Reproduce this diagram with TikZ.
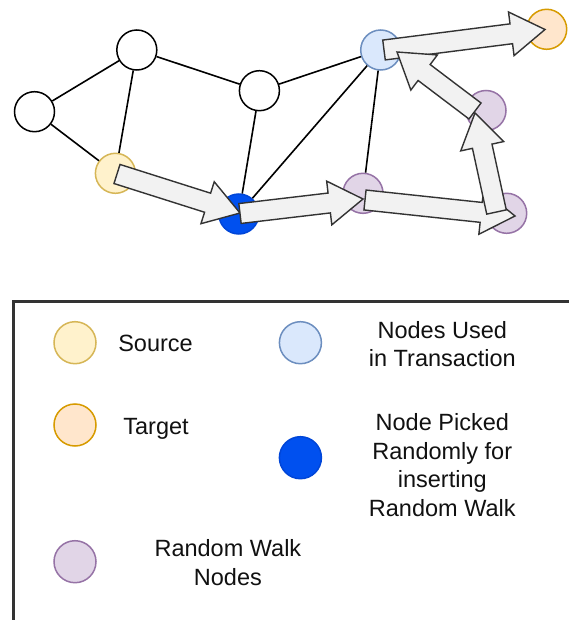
\documentclass[tikz,border=0pt]{standalone}
\usepackage{fontspec}
\setmainfont{Liberation Sans}
\usetikzlibrary{calc}
\definecolor{srcfill}{HTML}{FFF2CC}\definecolor{srcline}{HTML}{D6B656}
\definecolor{tgtfill}{HTML}{FFE6CC}\definecolor{tgtline}{HTML}{D79B00}
\definecolor{rwfill}{HTML}{E1D5E7}\definecolor{rwline}{HTML}{9673A6}
\definecolor{usedfill}{HTML}{DAE8FC}\definecolor{usedline}{HTML}{6C8EBF}
\definecolor{pickfill}{HTML}{0050EF}\definecolor{pickline}{HTML}{0046D8}
\definecolor{arrfill}{HTML}{F2F2F2}
\definecolor{txt}{HTML}{111111}
\newcommand\fatarrow[3]{%
  \coordinate (#1h) at ($(#3)!34pt!(#2)$);
  \draw[fatarr] ($(#2)!10pt!90:(#3)$) -- ($(#1h)!10pt!90:(#3)$) -- ($(#1h)!22pt!90:(#3)$) -- (#3)
    -- ($(#1h)!22pt!-90:(#3)$) -- ($(#1h)!10pt!-90:(#3)$) -- ($(#2)!10pt!-90:(#3)$) -- cycle;
}
\begin{document}
\begin{tikzpicture}[x=1pt,y=-1pt,
  gnode/.style={circle, minimum size=40pt, inner sep=0pt, line width=1.5pt, draw=black, fill=white},
  lnode/.style={circle, minimum size=42pt, inner sep=0pt, line width=1.5pt},
  srcn/.style={fill=srcfill, draw=srcline},
  tgtn/.style={fill=tgtfill, draw=tgtline},
  rwn/.style={fill=rwfill, draw=rwline},
  usedn/.style={fill=usedfill, draw=usedline},
  pickn/.style={fill=pickfill, draw=pickline},
  edge/.style={line width=1.6pt, draw=black},
  fatarr/.style={fill=arrfill, draw=black!80, line width=1.4pt, line join=miter},
  ltext/.style={align=center, text=txt, font=\fontsize{23.5}{28.5}\selectfont, inner sep=0pt}]
\useasboundingbox (0,0) rectangle (569,620);
\fill[white] (0,0) rectangle (569,620);
\clip (0,0) rectangle (569,620);
% graph nodes
\node[gnode] (L) at (34.5,111.7) {};
\node[gnode] (T) at (136.8,50) {};
\node[gnode] (M) at (259.4,90.7) {};
\node[gnode,usedn] (U) at (380.7,50) {};
\node[gnode,tgtn] (Tg) at (546.7,29.3) {};
\node[gnode,srcn] (S) at (115.4,173.3) {};
\node[gnode,pickn] (B) at (238.8,214) {};
\node[gnode,rwn] (P1) at (363,193.3) {};
\node[gnode,rwn] (P2) at (506.7,213.3) {};
\node[gnode,rwn] (P3) at (486,110.5) {};
% edges
\draw[edge] (L) -- (T);
\draw[edge] (L) -- (S);
\draw[edge] (T) -- (S);
\draw[edge] (T) -- (M);
\draw[edge] (M) -- (B);
\draw[edge] (M) -- (U);
\draw[edge] (U) -- (B);
\draw[edge] (U) -- (P1);
% arrow end points
\coordinate (a1t) at (117,174);   \coordinate (a1p) at (240,213);
\coordinate (a2t) at (240,213.5); \coordinate (a2p) at (363,199);
\coordinate (a3t) at (365,200);   \coordinate (a3p) at (515,216);
\coordinate (a4t) at (496.5,212); \coordinate (a4p) at (475,113);
\coordinate (a5t) at (475,111);   \coordinate (a5p) at (397,52);
\coordinate (a6t) at (384,50);    \coordinate (a6p) at (545,29.5);
\fatarrow{x1}{a1t}{a1p}
\fatarrow{x2}{a2t}{a2p}
\fatarrow{x3}{a3t}{a3p}
\fatarrow{x4}{a4t}{a4p}
\fatarrow{x6}{a6t}{a6p}
\fatarrow{x5}{a5t}{a5p}
% legend
\draw[line width=2.5pt, draw=black!80] (13.4,301.7) rectangle (590,640);
\node[lnode,srcn] (lS) at (75,342.7) {};
\node[lnode,tgtn] (lT) at (75,425) {};
\node[lnode,rwn] (lR) at (75,561.7) {};
\node[lnode,usedn] (lU) at (300.4,342.7) {};
\node[lnode,pickn] (lP) at (300.4,457.7) {};
\node[ltext] (tS) at (155.5,343.3) {Source};
\node[ltext] (tT) at (156,429) {Target};
\node[ltext] (tU) at (442.3,344) {Nodes Used\\in Transaction};
\node[ltext] (tP) at (442.3,465.3) {Node Picked\\Randomly for\\inserting\\Random Walk};
\node[ltext] (tR) at (227.9,562.8) {Random Walk\\Nodes};
\end{tikzpicture}
\end{document}
